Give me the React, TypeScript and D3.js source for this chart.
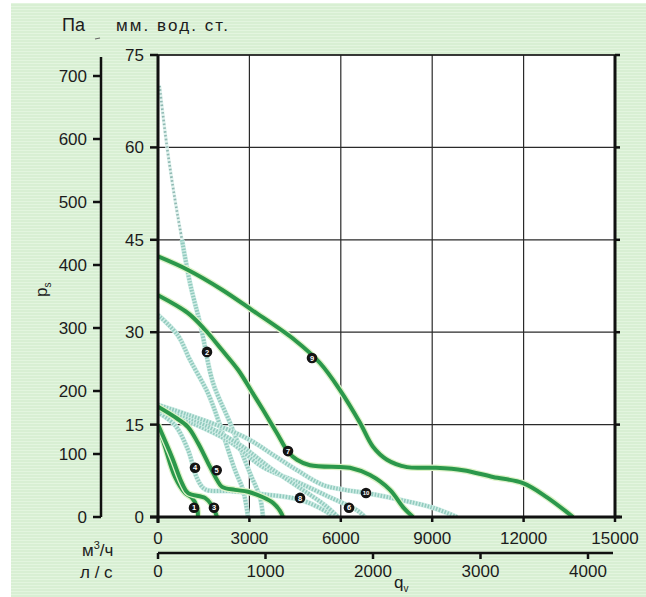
import React from "react";
import * as d3 from "d3";

const W = 646;
const H = 597;

// axis ticks
const flowTicks = [0, 3000, 6000, 9000, 12000, 15000];
const mmTicks = [0, 15, 30, 45, 60, 75];
const paTicks = [0, 100, 200, 300, 400, 500, 600, 700];
const lsTicks = [0, 1000, 2000, 3000, 4000];

type P = [number, number];

// solid curves (m³/h, mm water column)
const curve1: P[] = [[0, 15], [230, 11.4], [558, 6.5], [886, 3.9], [1116, 3.1], [1280, 1.6], [1313, 0]];
const curve3: P[] = [[0, 15], [460, 9.7], [788, 5.5], [985, 3.9], [1543, 3.1], [1772, 1.9], [1937, 0]];
const curve5: P[] = [[0, 17.9], [558, 16.2], [985, 14.6], [1313, 12], [1641, 8.8], [1937, 6], [2101, 4.9], [2527, 4.4], [2954, 4.1], [3446, 3.2], [3775, 2.3], [4004, 1], [4103, 0]];
const curve7: P[] = [[0, 36], [985, 33.1], [1543, 30.4], [2101, 27.1], [2626, 23.9], [3085, 20.3], [3446, 17.4], [3906, 13.6], [4267, 10.6], [4562, 9.3], [4989, 8.4], [5974, 8.1], [6302, 8], [6958, 6.8], [7615, 4.4], [8042, 1.6], [8370, 0]];
const curve9: P[] = [[0, 42.3], [985, 40.1], [2101, 36.9], [3085, 33.6], [4497, 28.7], [5317, 25], [5974, 20.6], [6630, 15.3], [7057, 11.4], [7516, 9.3], [8173, 8.1], [9026, 8], [10011, 7.6], [10996, 6.5], [11980, 5.5], [12768, 3.2], [13621, 0]];

// dotted curves
const curve2Top: P[] = [[50, 70], [295, 60.1], [558, 51.5], [788, 45], [1050, 38]];
const curve2: P[] = [[788, 45], [1050, 38], [1411, 30.8], [1805, 21.8], [2363, 15.3], [3020, 7.1], [3348, 3.2], [3446, 0]];
const curve2b: P[] = [[0, 32.8], [650, 29.5], [1050, 25.5], [1640, 20.1], [2035, 14.9], [2527, 7.6], [2790, 4.4], [2954, 0]];
const curve4: P[] = [[0, 17], [558, 14.9], [985, 10.9], [1280, 6.3], [1543, 4.5], [2363, 4.2], [3446, 3.7], [4661, 2.8], [5547, 0.8], [5744, 0]];
const curve6: P[] = [[0, 17.4], [1050, 15.4], [2363, 12.2], [3446, 8.1], [4562, 5.7], [5645, 3.2], [6532, 1.1], [6794, 0]];
const curve8: P[] = [[0, 17.9], [1378, 15.3], [2691, 11.7], [3676, 8], [4661, 4.7], [5481, 1.9], [5908, 0]];
const curve10: P[] = [[0, 18.2], [985, 16.6], [2101, 14.6], [3020, 12.5], [3775, 10.1], [4562, 7.6], [5416, 5.2], [6138, 4.4], [6827, 3.9], [7943, 2.8], [9026, 1.5], [9814, 0]];

const solidCurves = [curve1, curve3, curve5, curve7, curve9];
const dottedCurves = [curve2, curve2b, curve4, curve6, curve8, curve10];

// curve number markers
const markerIds = ["1", "2", "3", "4", "5", "6", "7", "8", "9", "10"];
const markerPos: P[] = [[1182, 1.5], [1608, 26.8], [1838, 1.5], [1214, 8], [1926, 7.6], [6269, 1.5], [4267, 10.7], [4661, 3.1], [5055, 25.8], [6827, 3.9]];

const FONT = "'Liberation Sans', Arial, Helvetica, sans-serif";
const INK = "#1c1c1c";

export default function App() {
  const x = d3.scaleLinear().domain([0, 15000]).range([158, 615]);
  const y = d3.scaleLinear().domain([0, 75]).range([517, 55]);
  const yPa = d3.scaleLinear().domain([0, 700]).range([517, 76]);
  const xLs = d3.scaleLinear().domain([0, 4000]).range([158, 588]);

  const line = d3
    .line<P>()
    .x((d) => x(d[0]))
    .y((d) => y(d[1]))
    .curve(d3.curveCatmullRom.alpha(0.5));

  const x0 = x(0), x1 = x(15000), y0 = y(0), y1 = y(75);

  return (
    <svg width={W} height={H} style={{ position: "absolute", left: 0, top: 0 }} fontFamily={FONT}>
      <defs>
        <pattern id="stripes" width="6" height="3" patternUnits="userSpaceOnUse">
          <rect width="6" height="3" fill="#d8efd3" />
          <rect width="6" height="1" fill="#e3f5df" />
        </pattern>
        <clipPath id="plotclip">
          <rect x={x0} y={y1} width={x1 - x0} height={y0 - y1} />
        </clipPath>
      </defs>
      <rect x={0} y={0} width={W} height={H} fill="#ffffff" />
      <rect x={11} y={3} width={W - 11} height={H - 3} fill="url(#stripes)" />
      <rect x={x0} y={y1} width={x1 - x0} height={y0 - y1} fill="#ffffff" />

      {/* grid */}
      {flowTicks.slice(1, -1).map((t) => (
        <line key={"gx" + t} x1={x(t)} x2={x(t)} y1={y1} y2={y0} stroke="#2a2a2a" strokeWidth={1.2} />
      ))}
      {mmTicks.slice(1).map((t) => (
        <line key={"gy" + t} x1={x0} x2={x1} y1={y(t)} y2={y(t)} stroke="#2a2a2a" strokeWidth={1.2} />
      ))}

      {/* curves */}
      <g clipPath="url(#plotclip)" fill="none" strokeLinecap="butt" strokeLinejoin="round">
        <path d={line(curve2Top) ?? ""} stroke="#e3f3ef" strokeWidth={3.5} />
        <path d={line(curve2Top) ?? ""} stroke="#8fb9b3" strokeWidth={2.6} strokeDasharray="1.6 2.2" />
        {dottedCurves.map((c, i) => (
          <g key={"d" + i}>
            <path d={line(c) ?? ""} stroke="#d2eee7" strokeWidth={5} />
            <path d={line(c) ?? ""} stroke="#92cbbf" strokeWidth={4} strokeDasharray="1.6 1.4" />
          </g>
        ))}
        {solidCurves.map((c, i) => (
          <g key={"s" + i}>
            <path d={line(c) ?? ""} stroke="#ddf2c8" strokeWidth={6.5} />
            <path d={line(c) ?? ""} stroke="#2b984b" strokeWidth={4} />
          </g>
        ))}
      </g>

      {/* markers */}
      {markerIds.map((id, i) => (
        <g key={"m" + id} transform={`translate(${x(markerPos[i][0])},${y(markerPos[i][1])})`}>
          <circle r={5.3} fill="#141414" />
          <text textAnchor="middle" dy="0.35em" fontSize={id.length > 1 ? 6 : 7.5} fontWeight="bold" fill="#ffffff">
            {id}
          </text>
        </g>
      ))}

      {/* plot frame & axes */}
      <line x1={x0} x2={x1 + 5} y1={y1} y2={y1} stroke="#1a1a1a" strokeWidth={1.5} />
      <line x1={x0} x2={x0} y1={y1} y2={y0 + 6} stroke="#111" strokeWidth={3} />
      <line x1={x0 - 8} x2={x1 + 7} y1={y0} y2={y0} stroke="#111" strokeWidth={3} />
      <line x1={x1} x2={x1} y1={y1} y2={y0} stroke="#111" strokeWidth={3} />
      {mmTicks.map((t) => (
        <g key={"mt" + t}>
          <line x1={x0 - 8} x2={x0} y1={y(t)} y2={y(t)} stroke="#111" strokeWidth={2.5} />
          <line x1={x1} x2={x1 + 5} y1={y(t)} y2={y(t)} stroke="#111" strokeWidth={2.5} />
          <text x={144} y={y(t)} dy="0.35em" textAnchor="end" fontSize={17} fill={INK}>
            {t}
          </text>
        </g>
      ))}
      {flowTicks.map((t) => (
        <g key={"ft" + t}>
          <line x1={x(t)} x2={x(t)} y1={y0} y2={y0 + 5} stroke="#111" strokeWidth={2.5} />
          <text x={x(t)} y={544} textAnchor="middle" fontSize={17} fill={INK}>
            {t}
          </text>
        </g>
      ))}

      {/* Pa axis */}
      <line x1={101} x2={101} y1={57} y2={y0} stroke="#111" strokeWidth={2.5} />
      {paTicks.map((t) => (
        <g key={"pa" + t}>
          <line x1={93} x2={101} y1={yPa(t)} y2={yPa(t)} stroke="#111" strokeWidth={2.5} />
          <text x={87} y={yPa(t)} dy="0.35em" textAnchor="end" fontSize={17} fill={INK}>
            {t}
          </text>
        </g>
      ))}

      {/* l/s axis */}
      <line x1={xLs(0)} x2={613} y1={553} y2={553} stroke="#111" strokeWidth={2.5} />
      {lsTicks.map((t) => (
        <g key={"ls" + t}>
          <line x1={xLs(t)} x2={xLs(t)} y1={553} y2={559} stroke="#111" strokeWidth={2.5} />
          <text x={xLs(t)} y={577} textAnchor="middle" fontSize={17} fill={INK}>
            {t}
          </text>
        </g>
      ))}

      {/* titles */}
      <text x={62} y={31} fontSize={18} fill={INK}>Па</text>
      <line x1={95} x2={100} y1={39} y2={38} stroke="#666" strokeWidth={1.2} />
      <text x={116} y={31} fontSize={17} fill={INK} textLength={112} lengthAdjust="spacing">
        мм. вод. ст.
      </text>
      <text transform="translate(47,297) rotate(-90)" fontSize={17} fill={INK}>
        p<tspan fontSize={10} dy={4}>s</tspan>
      </text>
      <text x={82} y={556} fontSize={17} fill={INK}>
        м<tspan fontSize={11} dy={-7}>3</tspan>
        <tspan dy={7}>/ч</tspan>
      </text>
      <text x={80} y={578} fontSize={17} fill={INK}>л / с</text>
      <text x={394} y={588} fontSize={17} fill={INK}>
        q<tspan fontSize={10} dy={4}>v</tspan>
      </text>
    </svg>
  );
}
